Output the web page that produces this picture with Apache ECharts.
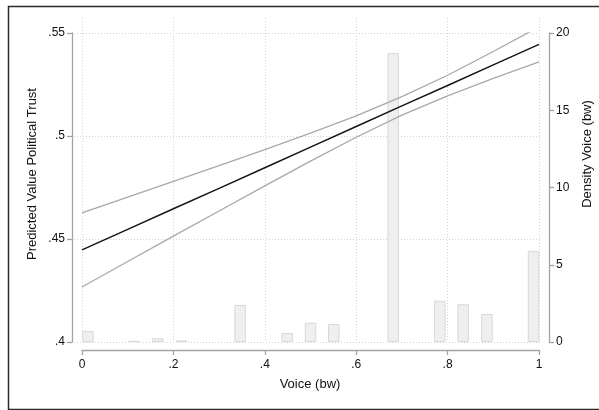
<!DOCTYPE html>
<html>
<head>
<meta charset="utf-8">
<script src="https://cdn.jsdelivr.net/npm/echarts@6/dist/echarts.min.js"></script>
<style>
  html, body { margin: 0; padding: 0; background: #fff; }
  #chart { width: 599px; height: 410px; }
</style>
</head>
<body>
<div id="chart"></div>
<script>
// ---- Data ----
var voiceX      = [0, 0.1, 0.2, 0.3, 0.4, 0.5, 0.6, 0.7, 0.8, 0.9, 1.0];
var predicted   = [0.4447, 0.4547, 0.4647, 0.4746, 0.4846, 0.4946, 0.5046, 0.5146, 0.5245, 0.5345, 0.5445];
var ciUpper     = [0.4627, 0.4703, 0.4780, 0.4856, 0.4934, 0.5014, 0.5098, 0.5191, 0.5295, 0.5410, 0.5530];
var ciLower     = [0.4267, 0.4391, 0.4514, 0.4636, 0.4758, 0.4878, 0.4994, 0.5101, 0.5195, 0.5280, 0.5360];

var densityX    = [0.013, 0.114, 0.166, 0.218, 0.346, 0.449, 0.500, 0.551, 0.681, 0.783, 0.834, 0.886, 0.988];
var densityY    = [0.71, 0.08, 0.24, 0.10, 2.40, 0.58, 1.25, 1.17, 18.7, 2.67, 2.44, 1.81, 5.9];

var xTickLabels      = ['0', '.2', '.4', '.6', '.8', '1'];
var yLeftTickLabels  = ['.4', '.45', '.5', '.55'];
var yRightTickLabels = ['0', '5', '10', '15', '20'];

var xTitle      = 'Voice (bw)';
var yLeftTitle  = 'Predicted Value Political Trust';
var yRightTitle = 'Density Voice (bw)';

// ---- Build ----
function zip(a, b) { return a.map(function (v, i) { return [v, b[i]]; }); }
function labeler(labels, min, step) {
  return function (v) {
    var i = Math.round((v - min) / step);
    return labels[i] !== undefined ? labels[i] : '';
  };
}

var FONT = '"Liberation Sans", Arial, Helvetica, sans-serif';
var AXIS_COLOR = '#a3a3a3';
var GRID_COLOR = '#d4d4d4';

var chart = echarts.init(document.getElementById('chart'), null, { renderer: 'canvas' });

var option = {
  backgroundColor: '#ffffff',
  animation: false,
  textStyle: { fontFamily: FONT },
  grid: [
    { left: 82, right: 60, top: 33, bottom: 68 },   // data
    { left: 82, right: 60, top: 18, bottom: 68 },   // vertical grid lines
    { left: 74, right: 59, top: 33, bottom: 68 }    // horizontal grid lines
  ],
  xAxis: [
    {
      gridIndex: 0, type: 'value', min: 0, max: 1, interval: 0.2,
      offset: 8,
      axisLine: { show: true, onZero: false, lineStyle: { color: AXIS_COLOR, width: 1.3 } },
      axisTick: { show: true, length: 5, lineStyle: { color: AXIS_COLOR, width: 1.3 } },
      axisLabel: { color: '#111', fontSize: 12, fontFamily: FONT, margin: 9,
                   formatter: labeler(xTickLabels, 0, 0.2) },
      splitLine: { show: false }
    },
    {
      gridIndex: 1, type: 'value', min: 0, max: 1, interval: 0.2,
      axisLine: { show: false, onZero: false }, axisTick: { show: false }, axisLabel: { show: false },
      splitLine: { show: true, lineStyle: { color: GRID_COLOR, type: [1, 2], width: 1 } }
    },
    {
      gridIndex: 2, type: 'value', min: 0, max: 1, show: false,
      axisLine: { onZero: false },
      splitLine: { show: false }
    }
  ],
  yAxis: [
    {
      gridIndex: 0, type: 'value', min: 0.4, max: 0.55, interval: 0.05,
      position: 'left', offset: 10,
      axisLine: { show: true, onZero: false, lineStyle: { color: AXIS_COLOR, width: 1.3 } },
      axisTick: { show: true, length: 5, lineStyle: { color: AXIS_COLOR, width: 1.3 } },
      axisLabel: { color: '#111', fontSize: 12, fontFamily: FONT, margin: 7,
                   formatter: labeler(yLeftTickLabels, 0.4, 0.05) },
      splitLine: { show: false }
    },
    {
      gridIndex: 0, type: 'value', min: 0, max: 20, interval: 5,
      position: 'right', offset: 10,
      axisLine: { show: true, onZero: false, lineStyle: { color: AXIS_COLOR, width: 1.3 } },
      axisTick: { show: true, length: 5, lineStyle: { color: AXIS_COLOR, width: 1.3 } },
      axisLabel: { color: '#111', fontSize: 12, fontFamily: FONT, margin: 7,
                   formatter: labeler(yRightTickLabels, 0, 5) },
      splitLine: { show: false }
    },
    {
      gridIndex: 1, type: 'value', min: 0, max: 1, show: false,
      axisLine: { onZero: false },
      splitLine: { show: false }
    },
    {
      gridIndex: 2, type: 'value', min: 0.4, max: 0.55, interval: 0.05,
      axisLine: { show: false, onZero: false }, axisTick: { show: false }, axisLabel: { show: false },
      splitLine: { show: true, lineStyle: { color: GRID_COLOR, type: [1, 2], width: 1 } }
    }
  ],
  series: [
    {
      name: 'Density', type: 'bar', xAxisIndex: 0, yAxisIndex: 1,
      data: zip(densityX, densityY),
      barWidth: 11.5,
      itemStyle: { color: '#efefef', borderColor: '#d8d8d8', borderWidth: 1 },
      silent: true, z: 2
    },
    {
      name: 'Upper', type: 'line', xAxisIndex: 0, yAxisIndex: 0,
      data: zip(voiceX, ciUpper), symbol: 'none', smooth: false,
      lineStyle: { color: '#a8a8a8', width: 1.3 }, z: 3
    },
    {
      name: 'Lower', type: 'line', xAxisIndex: 0, yAxisIndex: 0,
      data: zip(voiceX, ciLower), symbol: 'none', smooth: false,
      lineStyle: { color: '#a8a8a8', width: 1.3 }, z: 3
    },
    {
      name: 'Predicted', type: 'line', xAxisIndex: 0, yAxisIndex: 0,
      data: zip(voiceX, predicted), symbol: 'none', smooth: false,
      lineStyle: { color: '#151515', width: 1.5 }, z: 4
    }
  ],
  graphic: [
    {
      type: 'rect', left: 6, top: 4, z: 10, silent: true,
      shape: { width: 592, height: 403 },
      style: { fill: 'none', stroke: '#2a2a2a', lineWidth: 1.5 }
    },
    {
      type: 'text', x: 310, y: 384, z: 10,
      style: { text: xTitle, font: '13px ' + FONT, fill: '#111', align: 'center', verticalAlign: 'middle' }
    },
    {
      type: 'text', x: 32, y: 174, rotation: Math.PI / 2, z: 10,
      style: { text: yLeftTitle, font: '13px ' + FONT, fill: '#111', align: 'center', verticalAlign: 'middle' }
    },
    {
      type: 'text', x: 587, y: 154, rotation: Math.PI / 2, z: 10,
      style: { text: yRightTitle, font: '13px ' + FONT, fill: '#111', align: 'center', verticalAlign: 'middle' }
    }
  ]
};

chart.setOption(option);
</script>
</body>
</html>
